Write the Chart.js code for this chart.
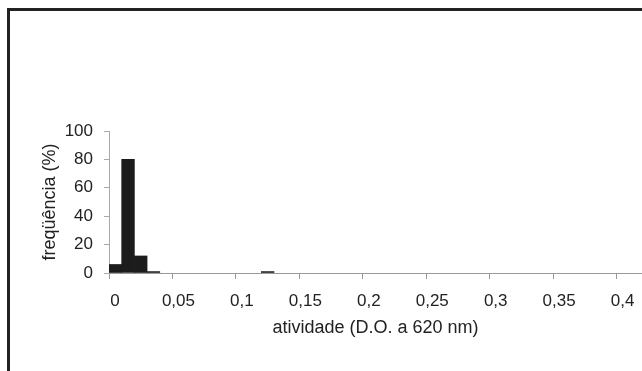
<!DOCTYPE html>
<html>
<head>
<meta charset="utf-8">
<script src="https://cdn.jsdelivr.net/npm/chart.js@4.4.0/dist/chart.umd.min.js"></script>
<style>
  html, body { margin: 0; padding: 0; background: #fff; }
  #wrap { position: relative; width: 642px; height: 371px; overflow: hidden; }
  #frame { position: absolute; left: 7px; top: 8px; width: 700px; height: 400px;
           border-top: 3px solid #222; border-left: 3px solid #222; }
  #chart { position: absolute; left: 0; top: 0; }
</style>
</head>
<body>
<div id="wrap">
  <div id="frame"></div>
  <canvas id="chart" width="642" height="371"></canvas>
</div>
<script>
// centres des classes (largeur 0,01) et fréquences
const binCenters = [0.005, 0.015, 0.025, 0.035, 0.125];
const frequencies = [6, 80, 12, 1, 1];
const xTicks = [0, 0.05, 0.1, 0.15, 0.2, 0.25, 0.3, 0.35, 0.4];
const xTickLabels = ['0', '0,05', '0,1', '0,15', '0,2', '0,25', '0,3', '0,35', '0,4'];
const yTicks = [0, 20, 40, 60, 80, 100];

const ctx = document.getElementById('chart');
const tickFont = { family: 'Liberation Sans, Arial, sans-serif', size: 17 };
const titleFont = { family: 'Liberation Sans, Arial, sans-serif', size: 18 };

new Chart(ctx, {
    type: 'bar',
    data: {
        datasets: [{
            data: binCenters.map((x, i) => ({ x: x, y: frequencies[i] })),
            backgroundColor: '#1c1c1c',
            borderWidth: 0,
            barPercentage: 1,
            categoryPercentage: 1
        }]
    },
    options: {
        responsive: false,
        animation: false,
        layout: { padding: { top: 131, left: 0, right: 0, bottom: 0 } },
        plugins: { legend: { display: false }, tooltip: { enabled: false } },
        scales: {
            x: {
                type: 'linear',
                offset: false,
                min: 0,
                max: 0.42,
                afterBuildTicks: function (scale) {
                    scale.ticks = xTicks.map(v => ({ value: v }));
                },
                afterFit: function (scale) { scale.height = 98; },
                ticks: {
                    color: '#222',
                    font: tickFont,
                    padding: 12,
                    labelOffset: 6,
                    maxRotation: 0,
                    autoSkip: false,
                    callback: function (value) {
                        const i = xTicks.indexOf(value);
                        return i >= 0 ? xTickLabels[i] : '';
                    }
                },
                grid: { drawOnChartArea: false, offset: false, tickLength: 6, color: '#999' },
                border: { color: '#999', width: 1 },
                title: {
                    display: true,
                    text: 'atividade (D.O. a 620 nm)',
                    color: '#222',
                    font: titleFont,
                    padding: { top: 0, bottom: 32 }
                }
            },
            y: {
                min: 0,
                max: 100,
                afterBuildTicks: function (scale) {
                    scale.ticks = yTicks.map(v => ({ value: v }));
                },
                afterFit: function (scale) { scale.width = 109; },
                ticks: { color: '#222', font: tickFont, padding: 11 },
                grid: { drawOnChartArea: false, tickLength: 5, color: '#aaa' },
                border: { color: '#aaa', width: 1 },
                title: {
                    display: true,
                    text: 'freqüência (%)',
                    color: '#222',
                    font: titleFont,
                    padding: { top: 39, bottom: 0 }
                }
            }
        }
    }
});
</script>
</body>
</html>
